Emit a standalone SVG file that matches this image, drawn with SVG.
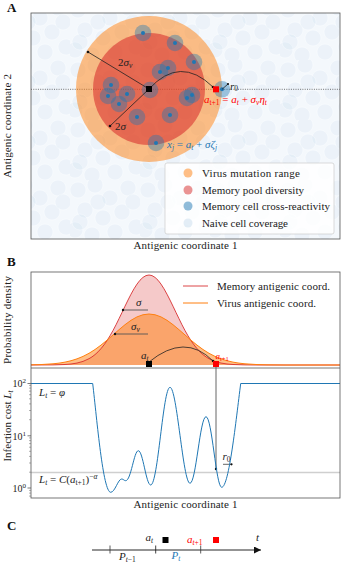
<svg xmlns="http://www.w3.org/2000/svg" width="342" height="563" viewBox="0 0 342 563" font-family="'Liberation Serif','DejaVu Serif',serif">
<defs>
<style>
text{font-family:"Liberation Serif","DejaVu Serif",serif;fill:#222;font-size:11px}
.pl{font-size:13px;font-weight:bold;fill:#111}
.i{font-style:italic}
.sub{font-size:7.5px}
.frame{fill:none;stroke:#555;stroke-width:0.8}
.cellbg{fill:#1f77b4;fill-opacity:0.4}
.celldot{fill:#1f77b4}
.arr{fill:none;stroke:#222;stroke-width:0.8}
.garr{fill:none;stroke:#555;stroke-width:0.9}
.tick{stroke:#444;stroke-width:0.7}
.mtick{stroke:#666;stroke-width:0.5}
</style>
<pattern id="naive" width="70" height="60" patternUnits="userSpaceOnUse">
<g fill="#4a90d0" fill-opacity="0.05" stroke="#ffffff" stroke-opacity="0.6" stroke-width="0.6">
<circle cx="8" cy="10" r="8"/><circle cx="25" cy="5" r="8"/><circle cx="40" cy="18" r="8"/><circle cx="58" cy="8" r="8"/>
<circle cx="15" cy="30" r="8"/><circle cx="33" cy="38" r="8"/><circle cx="52" cy="32" r="8"/><circle cx="66" cy="47" r="8"/>
<circle cx="5" cy="50" r="8"/><circle cx="22" cy="55" r="8"/><circle cx="45" cy="52" r="8"/><circle cx="63" cy="22" r="8"/>
<circle cx="28" cy="22" r="8"/><circle cx="10" cy="42" r="8"/>
</g>
</pattern>
<g id="cell"><circle r="8.3" class="cellbg"/><circle r="2" class="celldot"/></g>
<marker id="tri" markerWidth="8" markerHeight="8" refX="7" refY="3.5" orient="auto" markerUnits="userSpaceOnUse">
<path d="M0,0 L7,3.5 L0,7 Z" fill="#111"/>
</marker>
</defs>
<rect width="342" height="563" fill="#ffffff"/>

<!-- Panel A -->
<g id="panelA">
<text class="pl" x="7" y="12">A</text>
<rect x="31" y="13" width="309" height="226" fill="#f4f8fc"/>
<rect x="31" y="13" width="309" height="226" fill="url(#naive)"/>
<line x1="31" y1="89.3" x2="340" y2="89.3" stroke="#222" stroke-width="0.8" stroke-dasharray="1,1.3" stroke-opacity="0.8"/>
<circle id="virusRange" cx="149" cy="89" r="73" fill="#ff7f0e" fill-opacity="0.5"/>
<circle id="memoryPool" cx="149" cy="89" r="56" fill="#d62728" fill-opacity="0.55"/>
<g id="memoryCells">
<use href="#cell" x="143" y="33"/><use href="#cell" x="175" y="43"/><use href="#cell" x="194" y="62"/>
<use href="#cell" x="160" y="72"/><use href="#cell" x="168" y="68"/><use href="#cell" x="111" y="85"/>
<use href="#cell" x="108" y="96"/><use href="#cell" x="127" y="94"/><use href="#cell" x="119" y="104"/>
<use href="#cell" x="150" y="90"/><use href="#cell" x="192" y="95"/><use href="#cell" x="187" y="98"/>
<use href="#cell" x="137" y="117"/><use href="#cell" x="170" y="115"/><use href="#cell" x="156" y="143"/>
<use href="#cell" x="222" y="89.3"/>
</g>
<g id="arrowsA">
<line class="arr" x1="149" y1="89" x2="88" y2="52"/><circle cx="88" cy="52" r="1.3" fill="#111"/>
<line class="arr" x1="149" y1="89" x2="110" y2="126"/><circle cx="110" cy="126" r="1.3" fill="#111"/>
<path class="arr" d="M149,89 Q180,55 213,87"/><circle cx="213" cy="87" r="1.3" fill="#111"/>
<line class="arr" x1="222" y1="89.3" x2="228" y2="84"/><circle cx="228" cy="84" r="1.1" fill="#111"/>
</g>
<rect x="146" y="86" width="6" height="6" fill="#000"/>
<rect x="213" y="86.3" width="6" height="6" fill="#ff0000"/>
<text x="118" y="66">2<tspan class="i">σ</tspan><tspan class="i sub" dy="2">v</tspan></text>
<text x="115" y="130">2<tspan class="i">σ</tspan></text>
<text x="230" y="89.5"><tspan class="i">r</tspan><tspan class="sub" dy="1.5">0</tspan></text>
<text x="204" y="103" style="fill:#ff0000"><tspan class="i">a</tspan><tspan class="sub" dy="2">t+1</tspan><tspan dy="-2"> = </tspan><tspan class="i">a</tspan><tspan class="i sub" dy="2">t</tspan><tspan dy="-2"> + </tspan><tspan class="i">σ</tspan><tspan class="i sub" dy="2">v</tspan><tspan class="i" dy="-2">η</tspan><tspan class="i sub" dy="2">t</tspan></text>
<text x="167" y="148" style="fill:#1f77b4"><tspan class="i">x</tspan><tspan class="i sub" dy="2">j</tspan><tspan dy="-2"> = </tspan><tspan class="i">a</tspan><tspan class="i sub" dy="2">t</tspan><tspan dy="-2"> + </tspan><tspan class="i">σζ</tspan><tspan class="i sub" dy="2">j</tspan></text>
<g id="legendA">
<rect x="165" y="163" width="169" height="71" rx="2" fill="#ffffff" fill-opacity="0.85" stroke="#cccccc" stroke-width="0.7"/>
<circle cx="188" cy="173" r="4.5" fill="#ff7f0e" fill-opacity="0.5"/>
<circle cx="188" cy="190" r="4.5" fill="#d62728" fill-opacity="0.5"/>
<circle cx="188" cy="206" r="4.5" fill="#1f77b4" fill-opacity="0.5"/>
<circle cx="188" cy="223" r="4.5" fill="#1f77b4" fill-opacity="0.12"/>
<text x="202" y="177" textLength="98">Virus mutation range</text>
<text x="202" y="194" textLength="102">Memory pool diversity</text>
<text x="202" y="210" textLength="128">Memory cell cross-reactivity</text>
<text x="202" y="227" textLength="86">Naive cell coverage</text>
</g>
<rect class="frame" x="31" y="13" width="309" height="226"/>
<text x="185.5" y="249" text-anchor="middle" textLength="104">Antigenic coordinate 1</text>
<text transform="translate(11,126) rotate(-90)" text-anchor="middle" textLength="104">Antigenic coordinate 2</text>
</g>

<!-- Panel B -->
<g id="panelB">
<text class="pl" x="7" y="266">B</text>
<g id="densities">
<path d="M31,365 L53,364.9 65,364.5 71,364 77,363.05 83,361.4 89,358.7 92,356.9 95,354.6 98,351.9 101,348.6 104,344.9 107,340.6 110,335.8 113,330.5 116,324.8 119,318.7 122,312.5 125,306.2 128,300.05 131,294.2 134,288.8 137,284.1 140,280.2 143,277.4 146,275.6 149,275 152,275.6 155,277.4 158,280.2 161,284.1 164,288.8 167,294.2 170,300.05 173,306.2 176,312.5 179,318.7 182,324.8 185,330.5 188,335.8 191,340.6 194,344.9 197,348.6 200,351.9 203,354.6 206,356.9 209,358.7 215,361.4 221,363.05 227,364 233,364.5 245,364.9 257,365 340,365 Z" fill="#d62728" fill-opacity="0.25"/>
<path d="M31,364.83 L41,364.56 53,363.82 59,363.13 65,362.14 71,360.74 77,358.85 83,356.4 89,353.3 95,349.5 101,345.1 107,340.2 113,334.95 119,329.7 125,324.7 131,320.3 137,316.9 143,314.75 149,314 155,314.75 161,316.9 167,320.3 173,324.7 179,329.7 185,334.95 191,340.2 197,345.1 203,349.5 209,353.3 215,356.4 221,358.85 227,360.74 233,362.14 239,363.13 245,363.82 257,364.56 267,364.83 285,365 340,365 L31,365 Z" fill="#ff7f0e" fill-opacity="0.5"/>
<polyline fill="none" stroke="#d62728" stroke-width="1" stroke-opacity="0.85" points="31,365 53,364.9 65,364.5 71,364 77,363.05 83,361.4 89,358.7 92,356.9 95,354.6 98,351.9 101,348.6 104,344.9 107,340.6 110,335.8 113,330.5 116,324.8 119,318.7 122,312.5 125,306.2 128,300.05 131,294.2 134,288.8 137,284.1 140,280.2 143,277.4 146,275.6 149,275 152,275.6 155,277.4 158,280.2 161,284.1 164,288.8 167,294.2 170,300.05 173,306.2 176,312.5 179,318.7 182,324.8 185,330.5 188,335.8 191,340.6 194,344.9 197,348.6 200,351.9 203,354.6 206,356.9 209,358.7 215,361.4 221,363.05 227,364 233,364.5 245,364.9 257,365 340,365"/>
<polyline fill="none" stroke="#ff7f0e" stroke-width="1" points="31,364.83 41,364.56 53,363.82 59,363.13 65,362.14 71,360.74 77,358.85 83,356.4 89,353.3 95,349.5 101,345.1 107,340.2 113,334.95 119,329.7 125,324.7 131,320.3 137,316.9 143,314.75 149,314 155,314.75 161,316.9 167,320.3 173,324.7 179,329.7 185,334.95 191,340.2 197,345.1 203,349.5 209,353.3 215,356.4 221,358.85 227,360.74 233,362.14 239,363.13 245,363.82 257,364.56 267,364.83 285,365 340,365"/>
</g>
<g id="arrowsB">
<line class="garr" x1="148" y1="310" x2="123" y2="310"/><circle cx="123" cy="310" r="1.2" fill="#111"/>
<line class="garr" x1="148" y1="334" x2="115" y2="334"/><circle cx="115" cy="334" r="1.2" fill="#111"/>
<path class="arr" d="M149,362 Q185,332.5 213,361"/><circle cx="213" cy="361" r="1.2" fill="#111"/>
<line class="garr" x1="216" y1="364" x2="216" y2="469"/><circle cx="216" cy="469" r="1.2" fill="#111"/>
<line class="garr" x1="223" y1="464.3" x2="231.5" y2="464.3"/><circle cx="231.5" cy="464.3" r="1.1" fill="#111"/>
</g>
<text x="136" y="306" class="i">σ</text>
<text x="131" y="330"><tspan class="i">σ</tspan><tspan class="i sub" dy="2">v</tspan></text>
<text x="141" y="359"><tspan class="i">a</tspan><tspan class="i sub" dy="2">t</tspan></text>
<text x="215.5" y="359" style="fill:#ff0000;font-size:9px"><tspan class="i">a</tspan><tspan class="sub" style="font-size:6.5px" dy="2">t+1</tspan></text>
<rect x="146" y="361" width="6" height="6" fill="#000"/>
<rect x="213" y="361" width="6" height="6" fill="#ff0000"/>
<g id="legendB">
<line x1="183" y1="286" x2="208" y2="286" stroke="#d62728" stroke-width="1" stroke-opacity="0.85"/>
<line x1="183" y1="303" x2="208" y2="303" stroke="#ff7f0e" stroke-width="1"/>
<text x="217" y="290" textLength="113">Memory antigenic coord.</text>
<text x="217" y="307" textLength="99">Virus antigenic coord.</text>
</g>
<line x1="31" y1="472.5" x2="340" y2="472.5" stroke="#cfcfcf" stroke-width="1.3"/>
<path id="infectionCost" fill="none" stroke="#1f77b4" stroke-width="1" d="M31,383.5 L92.7,383.5 C97,420 103,492.3 110.7,492.3 C115,492.3 118,479 121.7,479 C123.5,479 124,480.7 125.7,480.7 C131,480.7 134,450.7 138.3,450.7 C143,450.7 146,485 150.7,485 C158,485 163,387.3 170,387.3 C177,387.3 183,483.3 190,483.3 C196,483.3 200,416.7 206,416.7 C212,416.7 216,487.3 221.7,487.3 C229,487.3 236,420 240.7,383.5 L340,383.5"/>
<text x="39" y="396"><tspan class="i">L</tspan><tspan class="i sub" dy="2">t</tspan><tspan dy="-2"> = </tspan><tspan class="i">φ</tspan></text>
<text x="39" y="483"><tspan class="i">L</tspan><tspan class="i sub" dy="2">t</tspan><tspan dy="-2"> = </tspan><tspan class="i">C</tspan>(<tspan class="i">a</tspan><tspan class="sub" dy="2">t+1</tspan><tspan dy="-2">)</tspan><tspan class="sub" dy="-4">−</tspan><tspan class="i sub">α</tspan></text>
<text x="222.5" y="460"><tspan class="i">r</tspan><tspan class="sub" dy="2">0</tspan></text>
<g id="ticks">
<line class="tick" x1="27.5" y1="383.5" x2="31" y2="383.5"/>
<line class="tick" x1="27.5" y1="435.8" x2="31" y2="435.8"/>
<line class="tick" x1="27.5" y1="488" x2="31" y2="488"/>
<g class="mtick">
<line x1="29" y1="385.4" x2="31" y2="385.4"/><line x1="29" y1="388.1" x2="31" y2="388.1"/><line x1="29" y1="391.1" x2="31" y2="391.1"/><line x1="29" y1="394.7" x2="31" y2="394.7"/><line x1="29" y1="398.8" x2="31" y2="398.8"/><line x1="29" y1="403.9" x2="31" y2="403.9"/><line x1="29" y1="410.5" x2="31" y2="410.5"/><line x1="29" y1="419.7" x2="31" y2="419.7"/>
<line x1="29" y1="437.9" x2="31" y2="437.9"/><line x1="29" y1="440.6" x2="31" y2="440.6"/><line x1="29" y1="443.6" x2="31" y2="443.6"/><line x1="29" y1="447.2" x2="31" y2="447.2"/><line x1="29" y1="451.3" x2="31" y2="451.3"/><line x1="29" y1="456.4" x2="31" y2="456.4"/><line x1="29" y1="463" x2="31" y2="463"/><line x1="29" y1="472.2" x2="31" y2="472.2"/>
<line x1="29" y1="490.4" x2="31" y2="490.4"/><line x1="29" y1="493.1" x2="31" y2="493.1"/><line x1="29" y1="496.1" x2="31" y2="496.1"/>
</g>
</g>
<text x="26" y="387" text-anchor="end" style="font-size:10px">10<tspan style="font-size:7px" dy="-4">2</tspan></text>
<text x="26" y="439.5" text-anchor="end" style="font-size:10px">10<tspan style="font-size:7px" dy="-4">1</tspan></text>
<text x="26" y="491.5" text-anchor="end" style="font-size:10px">10<tspan style="font-size:7px" dy="-4">0</tspan></text>
<rect class="frame" x="31" y="272" width="309" height="226"/>
<line x1="31" y1="368" x2="340" y2="368" stroke="#555" stroke-width="0.8"/>
<text x="185.5" y="508" text-anchor="middle" textLength="104">Antigenic coordinate 1</text>
<text transform="translate(11,320) rotate(-90)" text-anchor="middle" textLength="88">Probability density</text>
<text transform="translate(11,426) rotate(-90)" text-anchor="middle">Infection cost <tspan class="i">L</tspan><tspan class="i sub" dy="2">t</tspan></text>
</g>

<!-- Panel C -->
<g id="panelC">
<text class="pl" x="7" y="530">C</text>
<g id="timeline">
<line x1="92" y1="550" x2="261" y2="550" stroke="#111" stroke-width="0.9" marker-end="url(#tri)"/>
<line x1="110" y1="545.5" x2="110" y2="553.5" stroke="#333" stroke-width="0.8"/>
<line x1="155.7" y1="545.5" x2="155.7" y2="553.5" stroke="#111" stroke-width="0.8"/>
<line x1="200.7" y1="545.5" x2="200.7" y2="553.5" stroke="#333" stroke-width="0.8"/>
</g>
<text x="119" y="560"><tspan class="i">P</tspan><tspan class="sub" dy="2"><tspan class="i">t</tspan>−1</tspan></text>
<text x="171.5" y="559" style="fill:#1f77b4"><tspan class="i">P</tspan><tspan class="i sub" dy="2">t</tspan></text>
<text x="145.5" y="541"><tspan class="i">a</tspan><tspan class="i sub" dy="2">t</tspan></text>
<rect x="162.5" y="537" width="6" height="6" fill="#000"/>
<text x="187" y="543" style="fill:#ff0000"><tspan class="i">a</tspan><tspan class="sub" dy="2"><tspan class="i">t</tspan>+1</tspan></text>
<rect x="213" y="537" width="6" height="6" fill="#ff0000"/>
<text x="256" y="541" class="i">t</text>
</g>
</svg>
